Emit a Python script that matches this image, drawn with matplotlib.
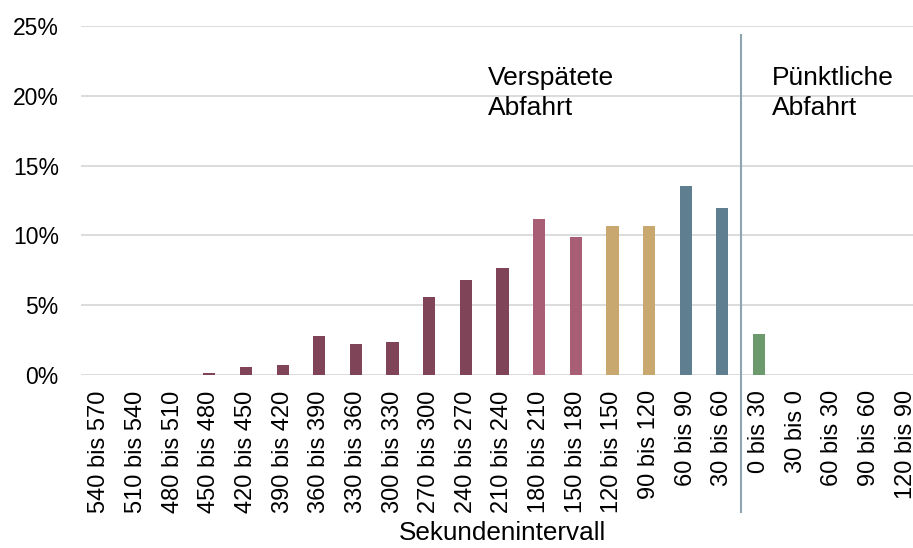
import matplotlib
matplotlib.use("Agg")
import matplotlib.pyplot as plt
from matplotlib.ticker import FuncFormatter

categories = ["540 bis 570", "510 bis 540", "480 bis 510", "450 bis 480", "420 bis 450",
              "390 bis 420", "360 bis 390", "330 bis 360", "300 bis 330", "270 bis 300",
              "240 bis 270", "210 bis 240", "180 bis 210", "150 bis 180", "120 bis 150",
              "90 bis 120", "60 bis 90", "30 bis 60", "0 bis 30", "30 bis 0",
              "60 bis 30", "90 bis 60", "120 bis 90"]
values = [0.0, 0.0, 0.0, 0.15, 0.57, 0.72, 2.8, 2.2, 2.36, 5.6, 6.8, 7.65, 11.2, 9.86,
          10.65, 10.65, 13.57, 11.93, 2.93, 0.0, 0.0, 0.0, 0.0]
groups = ["a"] * 12 + ["b"] * 2 + ["c"] * 2 + ["d"] * 2 + ["e"] + ["e"] * 4
group_colors = {"a": "#7F4457", "b": "#A85F75", "c": "#C9A870", "d": "#5F7E90", "e": "#6C9A6C"}
yticks = [0, 5, 10, 15, 20, 25]
label_late = "Verspätete\nAbfahrt"
label_ontime = "Pünktliche\nAbfahrt"
xlabel = "Sekundenintervall"

plt.rcParams['font.family'] = ['Liberation Sans', 'DejaVu Sans']

fig = plt.figure(figsize=(9.13, 5.48), dpi=100)
W, H = 913, 548
ax = fig.add_axes([81 / W, 1 - 375 / H, (924 - 81) / W, (375 - 26) / H])

x = list(range(len(categories)))
ax.bar(x, values, width=0.33, color=[group_colors[g] for g in groups], zorder=3)

ax.set_xlim(-0.5, len(categories) - 0.5)
ax.set_ylim(0, 25)
ax.set_yticks(yticks)
ax.yaxis.set_major_formatter(FuncFormatter(lambda v, p: f"{v:.0f}%"))
ax.grid(axis="y", color="#D9D9D9", linewidth=1.3, zorder=0)
for s in ax.spines.values():
    s.set_visible(False)
ax.set_xticks(x)
ax.set_xticklabels(categories, rotation=90, va="top")
ax.tick_params(axis="x", length=0, pad=11, labelsize=17)
ax.tick_params(axis="y", length=0, pad=16, labelsize=16.5)
ax.set_xlabel(xlabel, fontsize=18.8, labelpad=6)

# separator line between late and on-time departures
sep = len(values) - 5.5
ax.plot([sep, sep], [-9.8, 24.35], color="#8FA4B1", linewidth=1.5, clip_on=False, zorder=4)

ax.text(10.6, 22.15, label_late, fontsize=19, va="top", ha="left", linespacing=1.35)
ax.text(18.35, 22.15, label_ontime, fontsize=19, va="top", ha="left", linespacing=1.35)

fig.savefig("out.png", dpi=100)
